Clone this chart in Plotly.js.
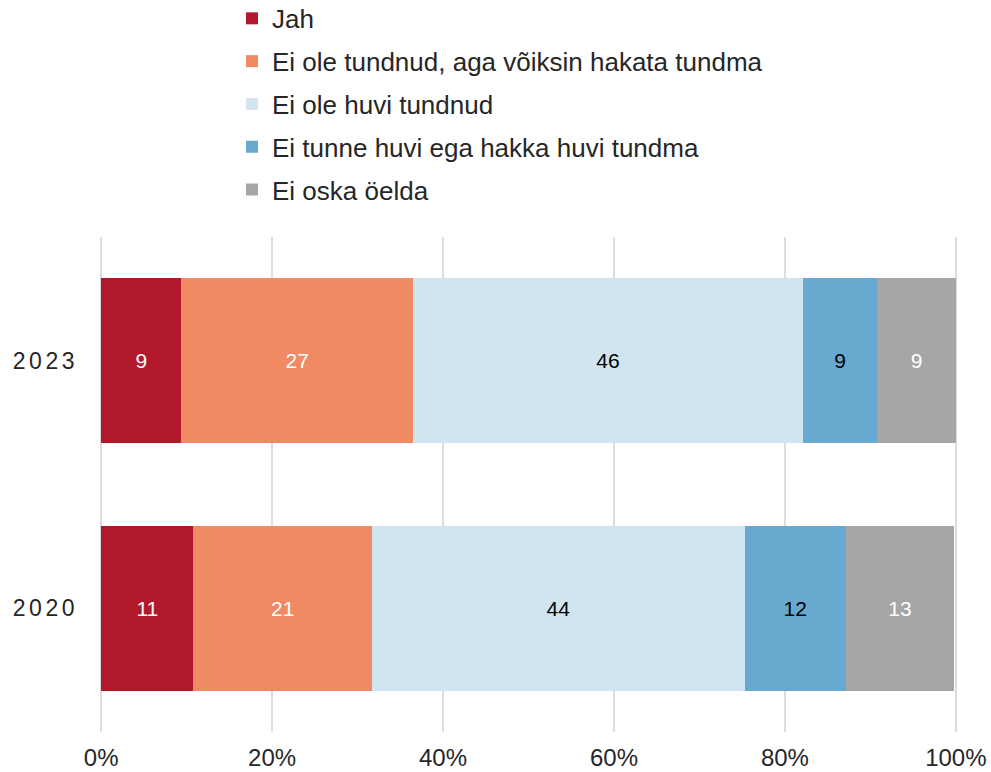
<!DOCTYPE html>
<html>
<head>
<meta charset="utf-8">
<script src="https://cdn.plot.ly/plotly-3.0.1.min.js"></script>
<style>
  html, body { margin: 0; padding: 0; background: #fff; }
  #chart { width: 991px; height: 772px; }
  .yaxislayer-above text { letter-spacing: 3.5px; }
</style>
</head>
<body>
<div id="chart"></div>
<script>
// Data (percent shares)
const years = ['2020', '2023'];
const seriesNames = [
  'Jah',
  'Ei ole tundnud, aga võiksin hakata tundma',
  'Ei ole huvi tundnud',
  'Ei tunne huvi ega hakka huvi tundma',
  'Ei oska öelda'
];
const jah        = [10.8, 9.4];
const eiOleAga   = [20.9, 27.1];
const eiOleHuvi  = [43.6, 45.6];
const eiTunne    = [11.8, 8.7];
const eiOska     = [12.7, 9.2];
const xTickVals  = [0, 20, 40, 60, 80, 100];
const xTickText  = ['0%', '20%', '40%', '60%', '80%', '100%'];

const seriesValues = [jah, eiOleAga, eiOleHuvi, eiTunne, eiOska];
const colors = ['#B2182B', '#EF8A62', '#D1E5F0', '#67A9CF', '#A6A6A6'];
const textColors = ['#ffffff', '#ffffff', '#000000', '#000000', '#ffffff'];

const FONT = '"Liberation Sans", Arial, sans-serif';

const traces = seriesNames.map((name, i) => ({
  type: 'bar',
  orientation: 'h',
  name: name,
  legendgroup: 'g' + i,
  y: years,
  x: seriesValues[i],
  marker: { color: colors[i], line: { width: 0 } },
  texttemplate: '%{x:.0f}',
  textposition: 'inside',
  insidetextanchor: 'middle',
  constraintext: 'none',
  textangle: 0,
  textfont: { family: FONT, size: 21, color: textColors[i] },
  hoverinfo: 'skip'
}));

const layout = {
  width: 991,
  height: 772,
  paper_bgcolor: '#ffffff',
  plot_bgcolor: '#ffffff',
  margin: { l: 99, r: 33, t: 237, b: 40, pad: 0, autoexpand: false },
  barmode: 'stack',
  bargap: 0.333,
  font: { family: FONT, color: '#262626' },
  showlegend: true,
  legend: {
    orientation: 'v',
    xref: 'container',
    yref: 'paper',
    x: 232 / 991,
    xanchor: 'left',
    y: 1.489,
    yanchor: 'top',
    traceorder: 'grouped',
    tracegroupgap: 6,
    font: { family: FONT, size: 26, color: '#262626' },
    bgcolor: 'rgba(0,0,0,0)',
    borderwidth: 0
  },
  xaxis: {
    range: [-0.25, 100.25],
    tickvals: xTickVals,
    ticktext: xTickText,
    showgrid: true,
    gridcolor: '#dcdcdc',
    gridwidth: 2,
    zeroline: false,
    showline: false,
    ticks: '',
    ticklabelstandoff: 9,
    tickfont: { family: FONT, size: 24, color: '#262626' },
    fixedrange: true
  },
  yaxis: {
    type: 'category',
    categoryorder: 'array',
    categoryarray: years,
    showgrid: false,
    zeroline: false,
    showline: false,
    ticks: '',
    ticklabelstandoff: 20,
    tickfont: { family: FONT, size: 23, color: '#262626' },
    fixedrange: true
  }
};

Plotly.newPlot('chart', traces, layout, { displayModeBar: false, staticPlot: true });
</script>
</body>
</html>
